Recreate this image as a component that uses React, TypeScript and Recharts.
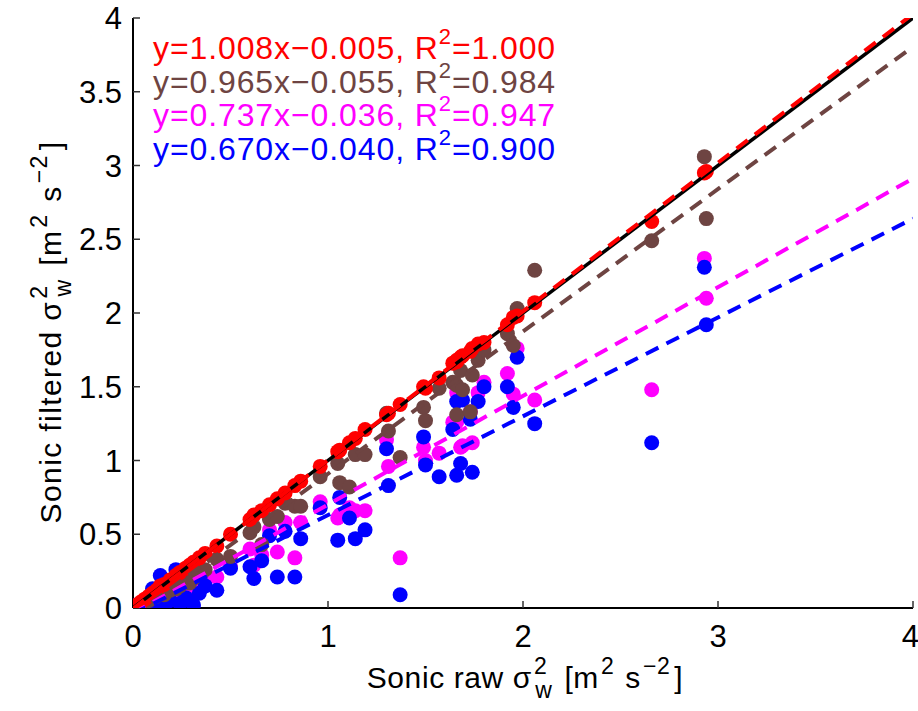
import React from 'react';
import { ScatterChart, Scatter, XAxis, YAxis } from 'recharts';

const FONT = '"Liberation Sans", Arial, Helvetica, sans-serif';

const RED = '#ff0000';
const BROWN = '#6e4442';
const MAGENTA = '#ff00ff';
const BLUE = '#0000ff';

// Sonic raw sigma_w^2 (shared x values)
const rawX = [
  0.01, 0.02, 0.04, 0.06, 0.08, 0.10, 0.12, 0.14, 0.16, 0.19,
  0.22, 0.24, 0.27, 0.29, 0.31, 0.34, 0.37, 0.43, 0.50, 0.60,
  0.62, 0.66, 0.70, 0.74, 0.78, 0.83, 0.86, 0.96, 1.05, 1.06,
  1.11, 1.14, 1.19, 1.30, 1.31, 1.37, 1.49, 1.50, 1.57, 1.64,
  1.66, 1.66, 1.68, 1.69, 1.73, 1.74, 1.77, 1.80, 1.92, 1.95,
  1.97, 2.06, 2.66, 2.93, 2.94,
];
const redY = [
  0.01, 0.02, 0.04, 0.06, 0.08, 0.10, 0.12, 0.15, 0.16, 0.19,
  0.22, 0.24, 0.27, 0.29, 0.31, 0.34, 0.37, 0.42, 0.50, 0.60,
  0.63, 0.66, 0.70, 0.74, 0.78, 0.83, 0.86, 0.96, 1.06, 1.07,
  1.12, 1.15, 1.21, 1.31, 1.32, 1.38, 1.50, 1.49, 1.56, 1.66,
  1.68, 1.67, 1.70, 1.71, 1.74, 1.76, 1.79, 1.80, 1.92, 1.97,
  1.98, 2.07, 2.62, 2.95, 2.96,
];
const brownY = [
  0.01, 0.01, 0.03, 0.04, 0.05, 0.07, 0.08, 0.10, 0.09, 0.12,
  0.13, 0.15, 0.18, 0.17, 0.20, 0.24, 0.26, 0.33, 0.35, 0.51,
  0.55, 0.43, 0.60, 0.62, 0.71, 0.69, 0.69, 0.89, 0.98, 0.85,
  0.82, 1.04, 1.04, 1.32, 1.20, 1.02, 1.36, 1.27, 1.49, 1.53,
  1.51, 1.31, 1.61, 1.48, 1.33, 1.58, 1.68, 1.75, 1.86, 1.78,
  2.03, 2.29, 2.49, 3.06, 2.64,
];
const magentaY = [
  0.01, 0.01, 0.02, 0.03, 0.04, 0.05, 0.06, 0.07, 0.06, 0.08,
  0.10, 0.11, 0.13, 0.12, 0.09, 0.12, 0.18, 0.21, 0.28, 0.40,
  0.29, 0.36, 0.53, 0.38, 0.58, 0.34, 0.58, 0.72, 0.61, 0.63,
  0.68, 0.66, 0.66, 1.14, 0.96, 0.34, 1.09, 1.00, 1.05, 1.26,
  1.46, 1.26, 1.09, 1.10, 1.33, 1.12, 1.46, 1.53, 1.59, 1.45,
  1.76, 1.41, 1.48, 2.37, 2.10,
];
const blueY = [
  0.00, 0.02, 0.01, 0.02, 0.03, 0.13, 0.02, 0.22, 0.04, 0.05,
  0.26, 0.03, 0.07, 0.05, 0.02, 0.10, 0.15, 0.12, 0.27, 0.28,
  0.20, 0.32, 0.49, 0.21, 0.52, 0.21, 0.47, 0.68, 0.46, 0.75,
  0.61, 0.47, 0.53, 1.08, 0.83, 0.09, 1.16, 0.97, 0.89, 1.21,
  1.40, 0.90, 0.98, 1.41, 1.28, 0.92, 1.40, 1.50, 1.50, 1.36,
  1.70, 1.25, 1.12, 2.31, 1.92,
];

// Linear fits shown in the legend text
const fitNames = ['red', 'brown', 'magenta', 'blue'];
const fitSlopes = [1.008, 0.965, 0.737, 0.670];
const fitIntercepts = [-0.005, -0.055, -0.036, -0.040];
const fitR2 = ['1.000', '0.984', '0.947', '0.900'];
const fitColors = [RED, BROWN, MAGENTA, BLUE];
const fitLineX = [0, 4];

const xTicks = [0, 1, 2, 3, 4];
const yTicks = [0, 0.5, 1, 1.5, 2, 2.5, 3, 3.5, 4];

const toPoints = (ys: number[]) => rawX.map((x, i) => ({ x, y: ys[i] }));
const fitPoints = (k: number) =>
  fitLineX.map((x) => ({ x, y: fitSlopes[k] * x + fitIntercepts[k] }));
const identity = fitLineX.map((x) => ({ x, y: x }));

const dot = (color: string) => (props: any) =>
  <circle cx={props.cx} cy={props.cy} r={7.5} fill={color} />;
const noDot = () => <g />;

const MAIN = 30;
const SUP = 23;

const labelBody = (lead: string) => (
  <>
    {lead}
    <tspan fontSize={SUP} dx={2} dy={-14}>2</tspan>
    <tspan fontSize={SUP} dx={-12} dy={24}>w</tspan>
    <tspan dx={3} dy={-10}> [m</tspan>
    <tspan fontSize={SUP} dx={2} dy={-14}>2</tspan>
    <tspan dx={2} dy={14}> s</tspan>
    <tspan fontSize={SUP} dx={2} dy={-14}>−2</tspan>
    <tspan dx={4} dy={14}>]</tspan>
  </>
);

const XLabel = (props: any) => {
  const vb = props.viewBox;
  const cx = vb.x + vb.width / 2 + 2;
  const by = vb.y + 80;
  return (
    <text x={cx} y={by} textAnchor="middle" fontSize={MAIN} fontFamily={FONT} fill="#000" letterSpacing={0.6}>
      {labelBody('Sonic raw σ')}
    </text>
  );
};

const YLabel = (props: any) => {
  const vb = props.viewBox;
  const cx = 61;
  const cy = vb.y + vb.height / 2 + 19;
  return (
    <text
      x={cx}
      y={cy}
      textAnchor="middle"
      fontSize={MAIN}
      fontFamily={FONT}
      fill="#000"
      letterSpacing={1.4}
      transform={`rotate(-90 ${cx} ${cy})`}
    >
      {labelBody('Sonic filtered σ')}
    </text>
  );
};

const tickStyle = { fill: '#000', fontSize: 31, fontFamily: FONT };

export default function App() {
  return (
    <div style={{ position: 'absolute', left: 0, top: 0, width: 918, height: 711, background: '#fff' }}>
      <ScatterChart width={918} height={711} margin={{ top: 18, right: 5, bottom: 0, left: 0 }}>
        <XAxis
          type="number"
          dataKey="x"
          domain={[0, 4]}
          ticks={xTicks}
          allowDataOverflow
          height={103}
          tickSize={-7}
          tickMargin={24}
          axisLine={{ stroke: '#000', strokeWidth: 2 }}
          tickLine={{ stroke: '#333', strokeWidth: 1.5 }}
          tick={tickStyle}
          label={<XLabel />}
        />
        <XAxis
          xAxisId="top"
          orientation="top"
          type="number"
          domain={[0, 4]}
          ticks={xTicks}
          allowDataOverflow
          height={0}
          tickSize={-7}
          axisLine={{ stroke: '#000', strokeWidth: 2 }}
          tickLine={{ stroke: '#333', strokeWidth: 1.5 }}
          tick={false}
        />
        <YAxis
          type="number"
          dataKey="y"
          domain={[0, 4]}
          ticks={yTicks}
          allowDataOverflow
          width={133}
          tickSize={-7}
          tickMargin={18}
          axisLine={{ stroke: '#000', strokeWidth: 2 }}
          tickLine={{ stroke: '#333', strokeWidth: 1.5 }}
          tick={tickStyle}
          label={<YLabel />}
        />
        <YAxis
          yAxisId="right"
          orientation="right"
          type="number"
          domain={[0, 4]}
          ticks={yTicks}
          allowDataOverflow
          width={0}
          tickSize={-7}
          axisLine={{ stroke: '#000', strokeWidth: 2 }}
          tickLine={{ stroke: '#333', strokeWidth: 1.5 }}
          tick={false}
        />
        <Scatter data={toPoints(magentaY)} fill={MAGENTA} shape={dot(MAGENTA)} isAnimationActive={false} />
        <Scatter data={toPoints(blueY)} fill={BLUE} shape={dot(BLUE)} isAnimationActive={false} />
        <Scatter data={toPoints(brownY)} fill={BROWN} shape={dot(BROWN)} isAnimationActive={false} />
        <Scatter data={toPoints(redY)} fill={RED} shape={dot(RED)} isAnimationActive={false} />
        <Scatter
          data={identity}
          shape={noDot}
          line={{ stroke: '#000', strokeWidth: 3.5 }}
          isAnimationActive={false}
        />
        {[1, 2, 3, 0].map((k) => (
          <Scatter
            key={fitNames[k]}
            data={fitPoints(k)}
            shape={noDot}
            line={{ stroke: fitColors[k], strokeWidth: 4, strokeDasharray: '14 9' }}
            isAnimationActive={false}
          />
        ))}
      </ScatterChart>
      <svg
        width={918}
        height={711}
        style={{ position: 'absolute', left: 0, top: 0, pointerEvents: 'none' }}
      >
        {fitNames.map((name, k) => (
          <text
            key={name}
            x={153}
            y={59 + k * 33.5}
            fontSize={32}
            fontFamily={FONT}
            letterSpacing={0.9}
            fill={fitColors[k]}
          >
            {`y=${fitSlopes[k].toFixed(3)}x−${Math.abs(fitIntercepts[k]).toFixed(3)}, R`}
            <tspan fontSize={22} dy={-15}>2</tspan>
            <tspan dy={15}>{`=${fitR2[k]}`}</tspan>
          </text>
        ))}
      </svg>
    </div>
  );
}
